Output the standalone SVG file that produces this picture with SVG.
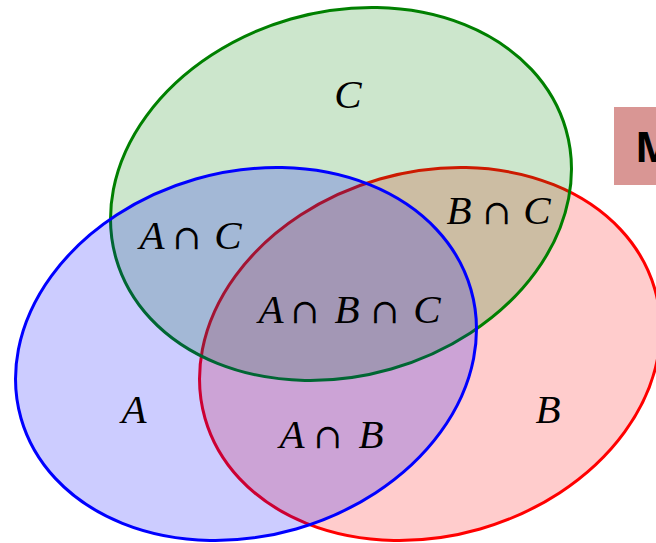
<svg xmlns="http://www.w3.org/2000/svg" width="656" height="543" viewBox="0 0 656 543">
<style>
.set{fill-opacity:0.2;stroke-width:3}
.m{font-family:"Liberation Serif","DejaVu Serif",serif;font-style:italic;font-size:41px;fill:#000;text-anchor:middle}
.op{font-family:"DejaVu Serif","Liberation Serif",serif;font-style:normal;font-size:34px}
</style>
<rect width="656" height="543" fill="#ffffff"/>
<g id="setB">
<ellipse class="set" cx="430" cy="354" rx="234" ry="182" transform="rotate(-16 430 354)" fill="#ff0000" stroke="#ff0000"/>
</g>
<g id="setC">
<ellipse class="set" cx="341" cy="194" rx="234" ry="182" transform="rotate(-16 341 194)" fill="#008000" stroke="#008000"/>
</g>
<g id="setA">
<ellipse class="set" cx="246" cy="354" rx="234" ry="182" transform="rotate(-16 246 354)" fill="#0000ff" stroke="#0000ff"/>
</g>
<g id="labels">
<text class="m" x="348" y="108">C</text>
<text class="m" x="134" y="423">A</text>
<text class="m" x="548" y="423">B</text>
<text class="m" y="249"><tspan x="152">A</tspan><tspan class="op" x="187">∩</tspan><tspan x="228">C</tspan></text>
<text class="m" y="224"><tspan x="459">B</tspan><tspan class="op" x="497">∩</tspan><tspan x="537">C</tspan></text>
<text class="m" y="323"><tspan x="271">A</tspan><tspan class="op" x="305">∩</tspan><tspan x="347">B</tspan><tspan class="op" x="385">∩</tspan><tspan x="427">C</tspan></text>
<text class="m" y="448"><tspan x="292">A</tspan><tspan class="op" x="328">∩</tspan><tspan x="371">B</tspan></text>
</g>
<g id="boxM">
<rect x="614" y="107" width="60" height="78" fill="#d99694"/>
<text x="635" y="162" font-family="'Open Sans','Liberation Sans',sans-serif" font-weight="bold" font-size="42" fill="#000">M</text>
</g>
</svg>
